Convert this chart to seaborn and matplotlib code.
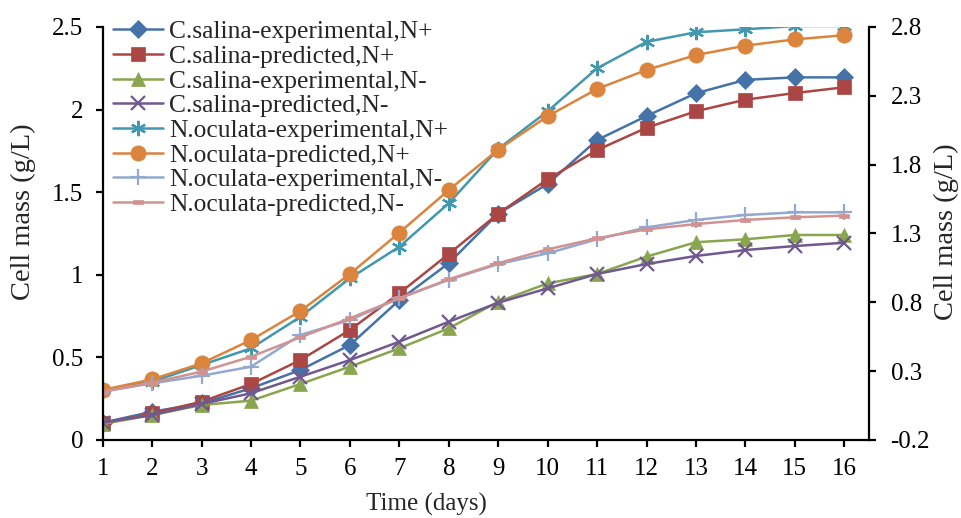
import numpy as np
import pandas as pd
import matplotlib
matplotlib.use("Agg")
import matplotlib.pyplot as plt
import seaborn as sns

days = list(range(1, 17))

cs_exp_np = [0.105, 0.171, 0.222, 0.313, 0.424, 0.575, 0.847, 1.07, 1.37, 1.55, 1.816, 1.961, 2.099, 2.18, 2.195, 2.195]
cs_pred_np = [0.101, 0.161, 0.232, 0.339, 0.484, 0.666, 0.888, 1.126, 1.37, 1.578, 1.755, 1.89, 1.99, 2.06, 2.10, 2.135]
cs_exp_nm = [0.097, 0.151, 0.212, 0.238, 0.339, 0.444, 0.555, 0.676, 0.837, 0.948, 1.005, 1.11, 1.197, 1.215, 1.241, 1.241]
cs_pred_nm = [0.105, 0.151, 0.218, 0.283, 0.383, 0.484, 0.595, 0.716, 0.831, 0.918, 1.005, 1.065, 1.114, 1.15, 1.174, 1.194]
no_exp_np = [0.303, 0.353, 0.454, 0.555, 0.746, 0.979, 1.17, 1.433, 1.762, 1.99, 2.25, 2.41, 2.468, 2.486, 2.506, 2.506]
no_pred_np = [0.303, 0.367, 0.464, 0.605, 0.781, 1.005, 1.255, 1.513, 1.758, 1.96, 2.125, 2.24, 2.33, 2.387, 2.425, 2.45]
no_exp_nm = [0.293, 0.343, 0.389, 0.444, 0.636, 0.726, 0.858, 0.969, 1.065, 1.13, 1.215, 1.287, 1.332, 1.362, 1.378, 1.378]
no_pred_nm = [0.293, 0.347, 0.414, 0.504, 0.622, 0.737, 0.858, 0.973, 1.07, 1.154, 1.221, 1.275, 1.307, 1.332, 1.348, 1.358]

labels = [
    "C.salina-experimental,N+",
    "C.salina-predicted,N+",
    "C.salina-experimental,N-",
    "C.salina-predicted,N-",
    "N.oculata-experimental,N+",
    "N.oculata-predicted,N+",
    "N.oculata-experimental,N-",
    "N.oculata-predicted,N-",
]
series = [cs_exp_np, cs_pred_np, cs_exp_nm, cs_pred_nm,
          no_exp_np, no_pred_np, no_exp_nm, no_pred_nm]

left_ticks = [0, 0.5, 1, 1.5, 2, 2.5]
left_ticklabels = ["0", "0.5", "1", "1.5", "2", "2.5"]
right_ticks = [-0.2, 0.3, 0.8, 1.3, 1.8, 2.3, 2.8]
right_ticklabels = ["-0.2", "0.3", "0.8", "1.3", "1.8", "2.3", "2.8"]

colors = ["#4572A7", "#AA4643", "#89A54E", "#71588F",
          "#4198AF", "#DB843D", "#93A9CF", "#D19392"]
dash_marker = [(-1, -0.45), (1, -0.45), (1, 0.45), (-1, 0.45), (-1, -0.45)]
markers = ["D", "s", "^", "x", (6, 2, 0), "o", "+", dash_marker]
msizes = [9, 9.5, 10, 10, 11, 11, 12, 7]

sns.set_style("ticks")
plt.rcParams["font.family"] = ["Liberation Serif", "DejaVu Serif"]
plt.rcParams["font.size"] = 18

fig = plt.figure(figsize=(9.62, 5.18), dpi=100)
ax = fig.add_axes([0.1068, 0.1506, 0.9033 - 0.1068, 0.9479 - 0.1506])

for vals, lab, c, m, ms in zip(series, labels, colors, markers, msizes):
    df = pd.DataFrame({"day": days, "mass": vals})
    filled = m not in ("x", "+", (6, 2, 0))
    sns.lineplot(data=df, x="day", y="mass", ax=ax, color=c, linewidth=1.8,
                 marker=m, markersize=ms, label=lab,
                 markerfacecolor=c, markeredgecolor=c,
                 markeredgewidth=0.5 if filled else 1.6)

ax.set_xlim(1, 16.5)
ax.set_ylim(0, 2.5)
ax.set_xticks(days)
ax.set_yticks(left_ticks)
ax.set_yticklabels(left_ticklabels)

ax2 = ax.twinx()
ax2.set_ylim(-0.2, 2.8)
ax2.set_yticks(right_ticks)
ax2.set_yticklabels(right_ticklabels)

ax.set_xlabel("Time (days)", fontsize=18)
ax.set_ylabel("Cell mass (g/L)", fontsize=20.5)
ax2.set_ylabel("Cell mass (g/L)", fontsize=20.5)
ax.xaxis.set_label_coords(0.422, -0.157)
ax.xaxis.label.set_va("center")
ax.yaxis.set_label_coords(-0.103, 0.552)
ax.yaxis.label.set_va("center")
ax2.yaxis.set_label_coords(1.1005, 0.505)
ax2.yaxis.label.set_va("center")

for a in (ax, ax2):
    a.spines["top"].set_visible(False)
    for s in a.spines.values():
        s.set_linewidth(1.6)
        s.set_color("black")
    a.tick_params(direction="out", length=5, width=1.6, labelsize=18, colors="black")
ax.spines["right"].set_visible(False)
ax2.spines["left"].set_visible(False)
ax2.spines["bottom"].set_visible(False)
ax.tick_params(axis="x", pad=8)
ax.tick_params(axis="y", pad=9)
ax2.tick_params(axis="y", pad=10.5)

leg = ax.legend(loc="upper left", bbox_to_anchor=(0.0134, 1.016), frameon=False,
                fontsize=18.4, handlelength=1.95, handletextpad=0.25,
                labelspacing=0.07, borderaxespad=0, borderpad=0)

fig.savefig("out.png", dpi=100)
